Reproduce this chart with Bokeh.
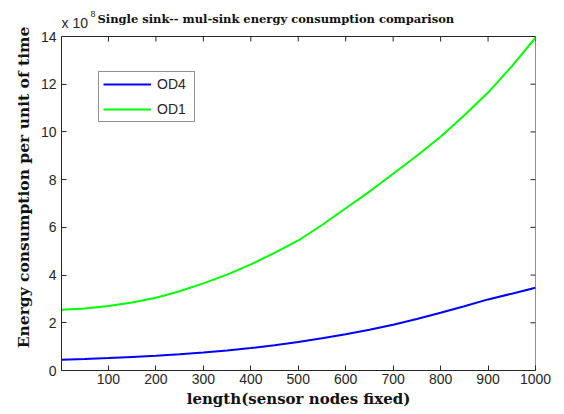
import math
from bokeh.plotting import figure
from bokeh.models import Range1d, FixedTicker, Label, Legend, LegendItem, Span
from bokeh.embed import file_html
from bokeh.resources import INLINE

# Data (x in length units, y in units of 1e8)
length = [1, 50, 100, 150, 200, 250, 300, 350, 400, 450, 500,
          550, 600, 650, 700, 750, 800, 850, 900, 950, 1000]
od1 = [2.55, 2.60, 2.70, 2.85, 3.05, 3.32, 3.65, 4.02, 4.45, 4.93, 5.45,
       6.10, 6.80, 7.50, 8.25, 9.00, 9.80, 10.70, 11.65, 12.75, 13.95]
od4 = [0.45, 0.48, 0.52, 0.57, 0.62, 0.68, 0.75, 0.84, 0.94, 1.06, 1.19,
       1.35, 1.52, 1.71, 1.92, 2.16, 2.42, 2.69, 2.98, 3.22, 3.47]
x_ticks = [100, 200, 300, 400, 500, 600, 700, 800, 900, 1000]
y_ticks = [0, 2, 4, 6, 8, 10, 12, 14]
x_min, x_max = 1, 1000
y_min, y_max = 0, 14

title_text = "Single sink-- mul-sink energy consumption comparison"
x_label = "length(sensor nodes fixed)"
y_label = "Energy consumption per unit of time"

SERIF = "DejaVu Serif"
SANS = "Liberation Sans"
INK = "#262626"

# The drawing area is extended above the axes box so that the title and the
# exponent (which sit above the box) can be drawn as labels.
FRAME_H = 366          # px, drawing area height
BOX_H = 334            # px, axes box height
y_top = y_max * FRAME_H / BOX_H

p = figure(width=556, height=412, output_backend="svg", toolbar_location=None,
           x_range=Range1d(x_min, x_max), y_range=Range1d(y_min, y_top),
           min_border_left=61, min_border_right=21, min_border_top=4,
           min_border_bottom=42)
p.background_fill_color = "white"
p.border_fill_color = "white"
p.outline_line_color = None
p.grid.visible = False

def style_axis(ax):
    ax.axis_line_color = INK
    ax.major_tick_line_color = INK
    ax.major_tick_in = 5
    ax.major_tick_out = 0
    ax.minor_tick_in = 0
    ax.minor_tick_out = 0
    ax.major_label_text_font = SANS
    ax.major_label_text_font_size = "14px"
    ax.major_label_text_color = INK
    ax.axis_label_text_font = SERIF
    ax.axis_label_text_font_style = "bold"
    ax.axis_label_text_color = "#111111"

xa = p.xaxis[0]
ya = p.yaxis[0]
xa.ticker = FixedTicker(ticks=x_ticks)
ya.ticker = FixedTicker(ticks=y_ticks)
ya.bounds = (y_min, y_max)
style_axis(xa)
style_axis(ya)
xa.major_label_standoff = 3
ya.major_label_standoff = 5
xa.axis_label = x_label
ya.axis_label = y_label
xa.axis_label_text_font_size = "15px"
ya.axis_label_text_font_size = "15.5px"
xa.axis_label_standoff = 3
ya.axis_label_standoff = 5

# top and right sides of the axes box, with inward ticks
p.add_layout(Span(location=y_max, dimension="width", line_color=INK, line_width=1))
p.segment(x0=[x_max], y0=[y_min], x1=[x_max], y1=[y_max], line_color=INK, line_width=1)
p.ray(x=x_ticks, y=[y_max] * len(x_ticks), length=5, length_units="screen",
      angle=-math.pi / 2, line_color=INK, line_width=1)
p.ray(x=[x_max] * len(y_ticks), y=y_ticks, length=5, length_units="screen",
      angle=math.pi, line_color=INK, line_width=1)

r4 = p.line(length, od4, line_color="#0000FF", line_width=2)
r1 = p.line(length, od1, line_color="#00FF00", line_width=2)

legend = Legend(items=[LegendItem(label="OD4", renderers=[r4]),
                       LegendItem(label="OD1", renderers=[r1])],
                location=(37, 248))
legend.border_line_color = INK
legend.border_line_width = 1
legend.background_fill_color = "white"
legend.background_fill_alpha = 1
legend.label_text_font = SANS
legend.label_text_font_size = "14px"
legend.label_text_color = INK
legend.glyph_width = 48
legend.glyph_height = 16
legend.label_height = 16
legend.label_width = 33
legend.spacing = 9
legend.padding = 4
legend.margin = 0
legend.label_standoff = 6
p.add_layout(legend, "center")

p.add_layout(Label(x=x_min, y=y_max, x_offset=0, y_offset=14, text="x 10",
                   text_font=SANS, text_font_size="14px", text_color=INK,
                   text_baseline="middle", text_align="left"))
p.add_layout(Label(x=x_min, y=y_max, x_offset=29, y_offset=23, text="8",
                   text_font=SANS, text_font_size="9px", text_color=INK,
                   text_baseline="middle", text_align="left"))
p.add_layout(Label(x=x_min, y=y_max, x_offset=36, y_offset=18, text=title_text,
                   text_font=SERIF, text_font_style="bold", text_font_size="11.5px",
                   text_color="#111111", text_baseline="middle", text_align="left"))

open("out.html", "w").write(file_html(p, INLINE))
